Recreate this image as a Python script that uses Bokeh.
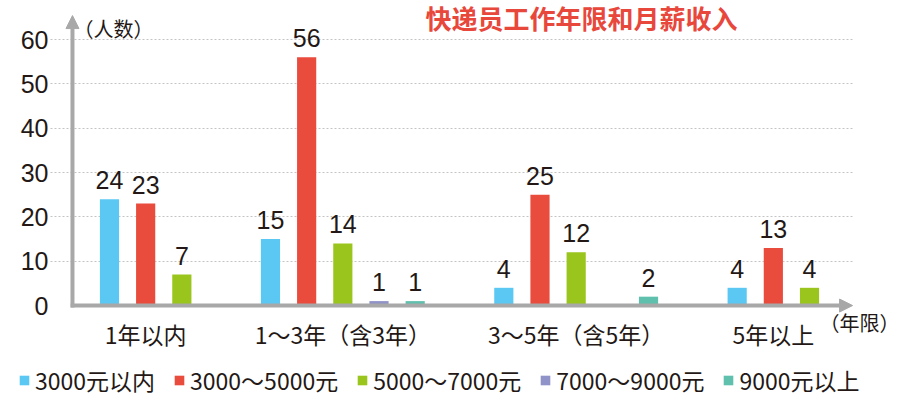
from bokeh.plotting import figure
from bokeh.models import (ColumnDataSource, FactorRange, Range1d, FixedTicker,
                          Arrow, NormalHead, Label, Legend, LegendItem, Grid)
from bokeh.core.properties import value
from bokeh.embed import file_html
from bokeh.resources import INLINE

# ---------------- data ----------------
categories = ["1年以内", "1～3年（含3年）", "3～5年（含5年）", "5年以上"]
series = ["3000元以内", "3000～5000元", "5000～7000元", "7000～9000元", "9000元以上"]
s_below_3000 = [24, 15, 4, 4]
s_3000_5000 = [23, 56, 25, 13]
s_5000_7000 = [7, 14, 12, 4]
s_7000_9000 = [0, 1, 0, 0]
s_above_9000 = [0, 1, 2, 0]
slots = [3, 5, 5, 3]          # series slots shown per category
y_ticks = [0, 10, 20, 30, 40, 50, 60]
title_text = "快递员工作年限和月薪收入"
y_unit = "（人数）"
x_unit = "（年限）"

values = [s_below_3000, s_3000_5000, s_5000_7000, s_7000_9000, s_above_9000]
colors = ["#5bc8f4", "#e94b3c", "#9ac51d", "#8f93c7", "#5fc1ad"]
TEXT = "#231815"
AXIS = "#a8a8a8"
CJK = "Noto Sans CJK SC"
LAT = "Liberation Sans"

# ---------------- ranges ----------------
factors = [(c, s) for i, c in enumerate(categories) for s in series[:slots[i]]]
GP = 1.45
R = 2.015
x_range = FactorRange(factors=factors, group_padding=GP, range_padding=R,
                      range_padding_units="absolute")
total = sum(slots) + GP * (len(categories) - 1)

p = figure(width=900, height=415, x_range=x_range, y_range=Range1d(-24.8, 68.8),
           output_backend="svg", toolbar_location=None, x_axis_location=None,
           min_border_left=18, min_border_right=0, min_border_top=0, min_border_bottom=0)
p.outline_line_color = None
p.background_fill_color = "white"
p.border_fill_color = "white"

ax_x = -0.523   # synthetic x of the vertical axis line

# y axis drawn at the arrow position (labels only)
p.yaxis.fixed_location = ax_x
p.yaxis.ticker = FixedTicker(ticks=y_ticks)
p.yaxis.axis_line_color = None
p.yaxis.major_tick_line_color = None
p.yaxis.minor_tick_line_color = None
p.yaxis.major_tick_out = 0
p.yaxis.major_tick_in = 0
p.yaxis.minor_tick_out = 0
p.yaxis.major_label_standoff = 24
p.yaxis.major_label_text_font = LAT
p.yaxis.major_label_text_font_size = "25px"
p.yaxis.major_label_text_color = TEXT
p.xgrid.visible = False

grid_left, grid_right = -1.13, 21.06
if "cross_bounds" in Grid.properties():
    p.ygrid.ticker = FixedTicker(ticks=y_ticks[1:])
    p.ygrid.cross_bounds = (grid_left, grid_right)
    p.ygrid.grid_line_color = "#c4c4c4"
    p.ygrid.grid_line_dash = "2 2"
    p.ygrid.grid_line_width = 1
else:
    p.ygrid.visible = False
    gy = y_ticks[1:]
    p.segment(x0=[grid_left] * len(gy), x1=[grid_right] * len(gy), y0=gy, y1=gy,
              line_color="#c4c4c4", line_dash="2 2", line_width=1)

# ---------------- bars ----------------
renderers = []
lab_x, lab_y, lab_t = [], [], []
for j, name in enumerate(series):
    xs, tops = [], []
    for i, c in enumerate(categories):
        v = values[j][i]
        if j < slots[i] and v > 0:
            xs.append((c, name))
            tops.append(v)
            lab_x.append((c, name))
            lab_y.append(v)
            lab_t.append(str(v))
    src = ColumnDataSource(dict(x=xs, top=tops))
    r = p.vbar(x="x", top="top", bottom=0, width=0.53, source=src,
               fill_color=colors[j], line_color=None)
    renderers.append(r)

lab_src = ColumnDataSource(dict(x=lab_x, y=lab_y, t=lab_t))
p.text(x="x", y="y", text="t", source=lab_src, text_align="center",
       text_baseline="middle", y_offset=-19, text_font=value(LAT),
       text_font_size="25px", text_color=TEXT)

# category labels
p.text(x=categories, y=[0] * len(categories), text=categories, y_offset=28,
       text_align="center", text_baseline="middle", text_font=value(CJK),
       text_font_size="23px", text_color=TEXT)

# ---------------- axes arrows ----------------
p.add_layout(Arrow(end=NormalHead(size=13, fill_color=AXIS, line_color=AXIS),
                   x_start=ax_x, y_start=-0.45, x_end=ax_x, y_end=65.4,
                   line_color=AXIS, line_width=4))
p.add_layout(Arrow(end=NormalHead(size=13, fill_color=AXIS, line_color=AXIS),
                   x_start=ax_x - 0.05, y_start=0, x_end=total + 0.69, y_end=0,
                   line_color=AXIS, line_width=4))

# ---------------- texts ----------------
p.add_layout(Label(x=13.55, y=65.0, text=title_text, text_align="center",
                   text_baseline="middle", text_font=CJK, text_font_size="26px",
                   text_font_style="bold", text_color="#e8473b"))
p.add_layout(Label(x=ax_x + 0.03, y=62.5, text=y_unit, text_align="left",
                   text_baseline="middle", text_font=CJK, text_font_size="20px",
                   text_color=TEXT))
p.add_layout(Label(x=total + R - 0.03, y=-3.8, text=x_unit, text_align="right",
                   text_baseline="middle", text_font=CJK, text_font_size="20px",
                   text_color=TEXT))

# ---------------- legend ----------------
legend = Legend(items=[LegendItem(label=series[j], renderers=[renderers[j]]) for j in range(len(series))],
                orientation="horizontal", location=(0, 18), glyph_width=12, glyph_height=12,
                label_standoff=5, spacing=18, padding=0, margin=0, label_height=23,
                label_text_font=CJK, label_text_font_size="23px", label_text_color=TEXT,
                border_line_color=None, background_fill_alpha=0)
p.add_layout(legend)

open("out.html", "w").write(file_html(p, INLINE))
